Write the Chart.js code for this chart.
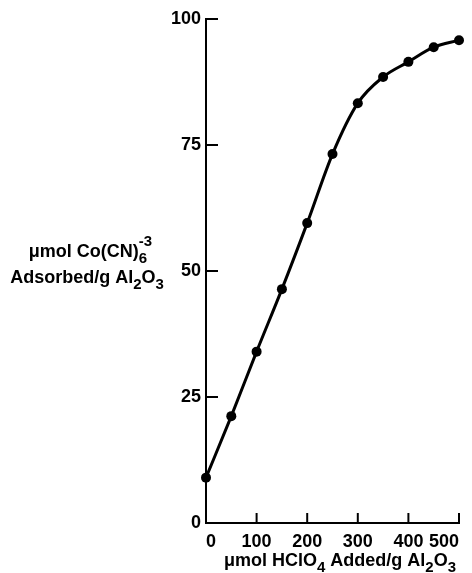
<!DOCTYPE html>
<html>
<head>
<meta charset="utf-8">
<script src="https://cdn.jsdelivr.net/npm/chart.js@4.4.0/dist/chart.umd.min.js"></script>
<style>
  html, body { margin: 0; padding: 0; background: #fff; }
  #wrap { width: 472px; height: 573px; }
</style>
</head>
<body>
<div id="wrap"><canvas id="adsGraph" width="472" height="573"></canvas></div>
<script>
// HClO4 added (umol/g Al2O3)
var acidAdded = [0, 50, 100, 150, 200, 250, 300, 350, 400, 450, 500];
// Co(CN)6 adsorbed (umol/g Al2O3)
var adsorbed = [9, 21.2, 34, 46.4, 59.5, 73.2, 83.3, 88.5, 91.5, 94.4, 95.8];
var xTicks = [0, 100, 200, 300, 400, 500];
var yTicks = [0, 25, 50, 75, 100];

var FONT = 'bold 18px "Liberation Sans", Arial, sans-serif';
var SMALL = 'bold 15px "Liberation Sans", Arial, sans-serif';

// draws a line of text with sub/superscript parts, centred on cx
function drawRich(ctx, parts, cx, y) {
	var w = 0;
	parts.forEach(function(p) {
		ctx.font = p[1] ? SMALL : FONT;
		p.w = ctx.measureText(p[0]).width;
		if (p[1] != 'sup') w += p.w;
	});
	var x = cx - w / 2, lastX = x;
	parts.forEach(function(p) {
		ctx.font = p[1] ? SMALL : FONT;
		if (p[1] == 'sup') {
			ctx.fillText(p[0], lastX, y - 11);
			return;
		}
		lastX = x;
		ctx.fillText(p[0], x, p[1] == 'sub' ? y + 6 : y);
		x += p.w;
	});
}

var extras = {
	id: 'extras',
	afterDraw: function(chart) {
		var ctx = chart.ctx, sx = chart.scales.x, sy = chart.scales.y;
		ctx.save();
		ctx.strokeStyle = '#000';
		ctx.lineWidth = 2;
		// inside ticks
		xTicks.forEach(function(v) {
			if (v == 0) return;
			var px = sx.getPixelForValue(v);
			ctx.beginPath();
			ctx.moveTo(px, sy.bottom);
			ctx.lineTo(px, sy.bottom - 10);
			ctx.stroke();
		});
		yTicks.forEach(function(v) {
			if (v == 0) return;
			var py = sy.getPixelForValue(v);
			ctx.beginPath();
			ctx.moveTo(sx.left, py);
			ctx.lineTo(sx.left + 12, py);
			ctx.stroke();
		});
		// axis titles
		ctx.fillStyle = '#000';
		ctx.textAlign = 'left';
		ctx.textBaseline = 'alphabetic';
		drawRich(ctx, [['\u03bcmol Co(CN)'], ['6', 'sub'], ['-3', 'sup']], 88, 257);
		drawRich(ctx, [['Adsorbed/g Al'], ['2', 'sub'], ['O'], ['3', 'sub']], 87, 283);
		drawRich(ctx, [['\u03bcmol HClO'], ['4', 'sub'], [' Added/g Al'], ['2', 'sub'], ['O'], ['3', 'sub']], 340, 566);
		ctx.restore();
	}
};

var points = acidAdded.map(function(v, i) {
	return { x: v, y: adsorbed[i] };
});

new Chart(document.getElementById("adsGraph"), {
	type: 'line',
	data: {
		datasets: [
			{
				label: "adsorbed",
				data: points,
				borderColor: '#000',
				backgroundColor: '#000',
				borderWidth: 3,
				pointRadius: 5,
				pointBackgroundColor: '#000',
				pointBorderWidth: 0,
				cubicInterpolationMode: 'monotone',
				clip: false
			}
		]
	},
	options: {
		responsive: false,
		animation: false,
		layout: { padding: { top: 19, right: 13, left: 0, bottom: 0 } },
		plugins: {
			legend: { display: false },
			tooltip: { enabled: false }
		},
		scales: {
			x: {
				type: 'linear',
				min: 0,
				max: 500,
				afterFit: function(s) { s.height = 50; },
				afterBuildTicks: function(s) { s.ticks = xTicks.map(function(v) { return { value: v }; }); },
				grid: { display: false, drawTicks: false },
				border: { color: '#000', width: 2 },
				ticks: { color: '#000', font: { family: '"Liberation Sans", Arial', size: 18, weight: 'bold' }, padding: 8, align: 'inner', maxRotation: 0 }
			},
			y: {
				min: 0,
				max: 100,
				afterFit: function(s) { s.width = 206; },
				afterBuildTicks: function(s) { s.ticks = yTicks.map(function(v) { return { value: v }; }); },
				grid: { display: false, drawTicks: false },
				border: { color: '#000', width: 2 },
				ticks: { color: '#000', font: { family: '"Liberation Sans", Arial', size: 18, weight: 'bold' }, padding: 5 }
			}
		}
	},
	plugins: [extras]
});
</script>
</body>
</html>
